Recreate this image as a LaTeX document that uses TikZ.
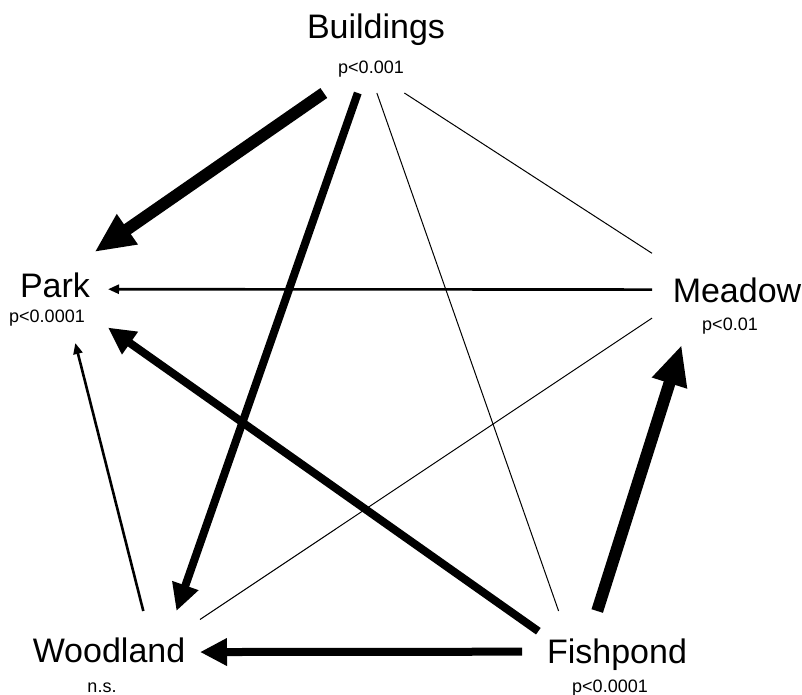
\documentclass[tikz,border=0pt]{standalone}
\usepackage{fontspec}
\setmainfont{Liberation Sans}
\usetikzlibrary{arrows.meta}
\tikzset{
  habitat/.style={inner sep=0, anchor=base, font=\fontsize{17}{20}\selectfont},
  pval/.style={inner sep=0, anchor=base, font=\fontsize{9}{11}\selectfont},
  vertex/.style={draw=none, inner sep=0, outer sep=0},
  faint/.style={line width=0.5pt},
  weak/.style={line width=1.3pt, -{Triangle[length=5.5pt,width=4.5pt]}},
  medium/.style={line width=4pt, -{Triangle[length=13.5pt,width=13pt]}},
  strong/.style={line width=6pt, -{Triangle[length=20pt,width=17pt]}}
}

\begin{document}
\begin{tikzpicture}[x=0.5pt, y=-0.5pt]
\useasboundingbox (0,0) rectangle (802,695);

%habitats
\node [habitat] (bldname) at (376,39) {Buildings};
\node [pval] (bldp) at (371,74) {p<0.001};
\node [habitat] (parkname) at (55,297) {Park};
\node [pval] (parkp) at (47,322) {p<0.0001};
\node [habitat] (mdwname) at (737,302) {Meadow};
\node [pval] (mdwp) at (730,330) {p<0.01};
\node [habitat] (woodname) at (109,662) {Woodland};
\node [pval] (woodp) at (102,692) {n.s.};
\node [habitat] (fishname) at (617,663) {Fishpond};
\node [pval] (fishp) at (610,692) {p<0.0001};

%areas the links stop at
\node [vertex, minimum width=75pt, minimum height=53pt] (bld) at (375,40) {};
\node [vertex, minimum width=59pt, minimum height=45.5pt] (park) at (49,297.5) {};
\node [vertex, minimum width=85pt, minimum height=46.5pt] (mdw) at (737,298.5) {};
\node [vertex, minimum width=91pt, minimum height=49pt] (wood) at (109,660) {};
\node [vertex, minimum width=95pt, minimum height=49pt] (fish) at (617,660) {};

%links without direction
\draw[faint] (bld.272) -- (fish.140);
\draw[faint] (bld.299) -- (mdw.152);
\draw[faint] (mdw.193) -- (wood.24);

%directed links
\draw[weak] (mdw.174) -- (park.8);
\draw[weak] (wood.55) -- (park.300);
\draw[medium] (bld.252) -- (wood.36);
\draw[medium, shorten <=-10pt] (fish.157) -- (park.333);
\draw[medium] (fish.175) -- (wood.5);
\draw[strong] (bld.226) -- (park.45);
\draw[strong] (fish.112) -- (mdw.220);

\end{tikzpicture}
\end{document}
